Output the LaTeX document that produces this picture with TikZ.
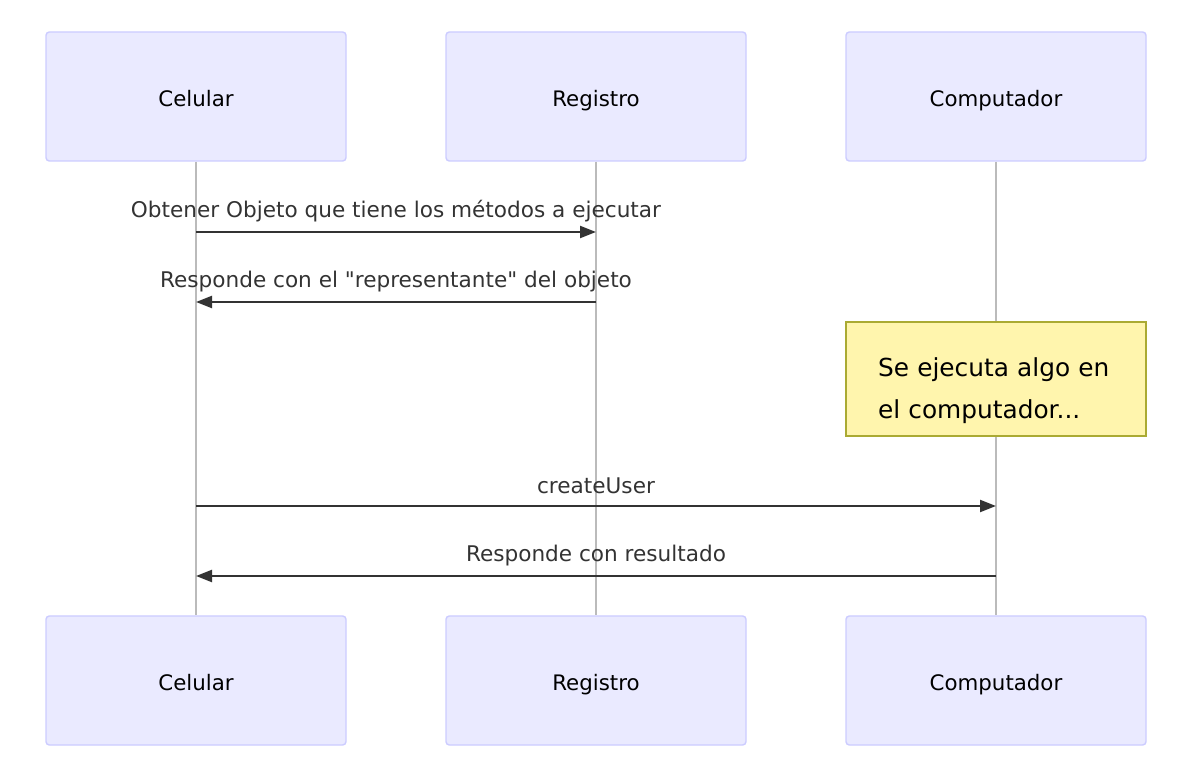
\documentclass[tikz,border=0pt]{standalone}
\usepackage{fontspec}
\setmainfont{DejaVu Sans}
\usepackage{tikz}
\usetikzlibrary{arrows.meta, positioning, calc}
\definecolor{actorfill}{HTML}{EAEAFF}
\definecolor{actorline}{HTML}{CCCCFF}
\definecolor{notefill}{HTML}{FFF5AD}
\definecolor{noteline}{HTML}{AAAA33}
\definecolor{msgline}{HTML}{333333}
\definecolor{lifegray}{HTML}{BBBBBB}

\begin{document}
\begin{tikzpicture}[x=0.75pt, y=0.75pt,
    actor/.style={draw=actorline, line width=1.1pt, fill=actorfill, rounded corners=2.5pt,
      minimum width=225pt, minimum height=96.75pt, text height=16pt, text depth=1.5pt,
      font=\fontsize{16}{19}\selectfont},
    life/.style={draw=lifegray, line width=0.9pt},
    msg/.style={draw=msgline, line width=1.6pt, -{Triangle[length=12pt, width=9pt]}},
    msglabel/.style={text=msgline, font=\fontsize{16.2}{19}\selectfont, yshift=15.5pt},
    notebox/.style={draw=noteline, line width=1.1pt, fill=notefill, minimum width=225pt,
      minimum height=85.5pt, text width=177pt, align=left, inner xsep=24pt,
      font=\fontsize{18.6}{31.5}\selectfont}]
  \useasboundingbox (0,0) rectangle (1182,-762);
  % Akteure oben
  \node[actor] (celTop)  at (196,-96.5) {Celular};
  \node[actor] (regTop)  at (596,-96.5) {Registro};
  \node[actor] (compTop) at (996,-96.5) {Computador};
  % Akteure unten
  \node[actor] (celBot)  at (196,-680.5) {Celular};
  \node[actor] (regBot)  at (596,-680.5) {Registro};
  \node[actor] (compBot) at (996,-680.5) {Computador};
  % Lebenslinien
  \draw[life] (celTop.south) -- (celBot.north);
  \draw[life] (regTop.south) -- (regBot.north);
  \draw[life] (compTop.south) -- (compBot.north);
  % Nachrichten
  \coordinate (m1) at (0,-232);
  \coordinate (m2) at (0,-302);
  \coordinate (m3) at (0,-506);
  \coordinate (m4) at (0,-576);
  \draw[msg] (celTop |- m1) -- (regTop |- m1)
    node[midway, msglabel] {Obtener Objeto que tiene los métodos a ejecutar};
  \draw[msg] (regTop |- m2) -- (celTop |- m2)
    node[midway, msglabel] {Responde con el \textquotedbl representante\textquotedbl{} del objeto};
  % Notiz
  \node[notebox] (note) at (996,-379) {\rule{0pt}{32pt}Se ejecuta algo en\\el computador...};
  \draw[msg] (celTop |- m3) -- (compTop |- m3)
    node[midway, msglabel] {createUser};
  \draw[msg] (compTop |- m4) -- (celTop |- m4)
    node[midway, msglabel] {Responde con resultado};
\end{tikzpicture}
\end{document}
